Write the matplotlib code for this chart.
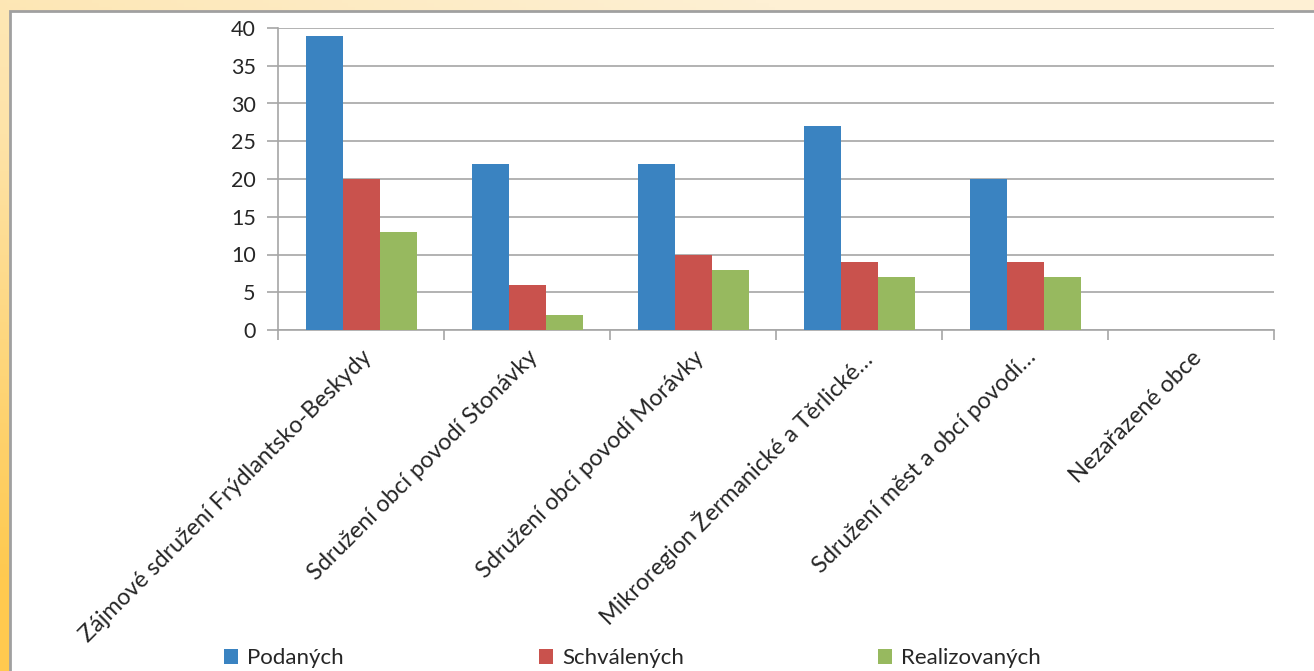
import numpy as np
import matplotlib.pyplot as plt
from matplotlib.patches import Rectangle
from matplotlib.colors import LinearSegmentedColormap

# === Data ===
categories = [
    "Zájmové sdružení Frýdlantsko-Beskydy",
    "Sdružení obcí povodí Stonávky",
    "Sdružení obcí povodí Morávky",
    "Mikroregion Žermanické a Těrlické…",
    "Sdružení měst a obcí povodí…",
    "Nezařazené obce",
]
podanych = [39, 22, 22, 27, 20, 0]
schvalenych = [20, 6, 10, 9, 9, 0]
realizovanych = [13, 2, 8, 7, 7, 0]
series_names = ["Podaných", "Schválených", "Realizovaných"]
colors = ["#3A83C1", "#C9524D", "#97B95F"]

plt.rcParams['font.family'] = ['Lato', 'DejaVu Sans']
text_color = "#262626"
grid_color = "#A6A6A6"

W, H = 1314, 671
fig = plt.figure(figsize=(W / 100, H / 100), dpi=100)

# === Background gradient + white panel ===
bg = fig.add_axes([0, 0, 1, 1], zorder=-10)
yy, xx = np.mgrid[0:1:200j, 0:1:200j]
t = np.clip(0.75 * yy + 0.6 * (1 - xx) - 0.25, 0, 1)
cmap = LinearSegmentedColormap.from_list("bg", ["#FEF0D4", "#FDE3A8", "#FFC94F"])
bg.imshow(t, cmap=cmap, aspect='auto', extent=[0, 1, 0, 1], origin='upper')
bg.add_patch(Rectangle((9.5 / W, -0.1), 1.2, 1 - 11 / H + 0.1, transform=bg.transAxes,
                       facecolor='white', edgecolor='#A0A0A0', linewidth=2))
bg.set_xlim(0, 1)
bg.set_ylim(0, 1)
bg.axis('off')

# === Chart ===
ax = fig.add_axes([278 / W, 1 - 330 / H, 996 / W, 302 / H])
ax.set_facecolor('none')
x = np.arange(len(categories))
bw = 37 / 166
bars = []
for i, (vals, name, c) in enumerate(zip([podanych, schvalenych, realizovanych], series_names, colors)):
    b = ax.bar(x + (i - 1) * bw, vals, width=bw, color=c, label=name, zorder=3)
    bars.append(b)

ax.set_xlim(-0.5, len(categories) - 0.5)
ax.set_ylim(0, 40)
ax.set_yticks(range(0, 41, 5))
ax.yaxis.grid(True, color=grid_color, linewidth=1.2, zorder=0)
ax.set_axisbelow(True)

ax.set_xticks(np.arange(-0.5, len(categories), 1))
ax.set_xticklabels([])
ax.set_xticks(x, minor=True)
ax.set_xticklabels(categories, minor=True, rotation=45, ha='right', va='top',
                   rotation_mode='anchor', fontsize=16.8, color=text_color)
ax.tick_params(axis='x', which='major', length=7, width=1.2, color=grid_color)
ax.tick_params(axis='x', which='minor', length=0, pad=12)
ax.tick_params(axis='y', length=8, width=1.2, color=grid_color, labelsize=15.5,
               labelcolor=text_color, pad=8)
for s in ['top', 'right']:
    ax.spines[s].set_visible(False)
for s in ['left', 'bottom']:
    ax.spines[s].set_color(grid_color)
    ax.spines[s].set_linewidth(1.2)

# === Legend (three separate entries, as in the original layout) ===
legend_x = [215 / W, 530 / W, 869 / W]
for b, name, lx in zip(bars, series_names, legend_x):
    fig.legend([b], [name], loc='center left', bbox_to_anchor=(lx, 1 - 658 / H),
               frameon=False, fontsize=16, handlelength=0.65, handleheight=0.65,
               handletextpad=0.4, borderaxespad=0, labelcolor=text_color)

plt.savefig("out.png", dpi=100)
